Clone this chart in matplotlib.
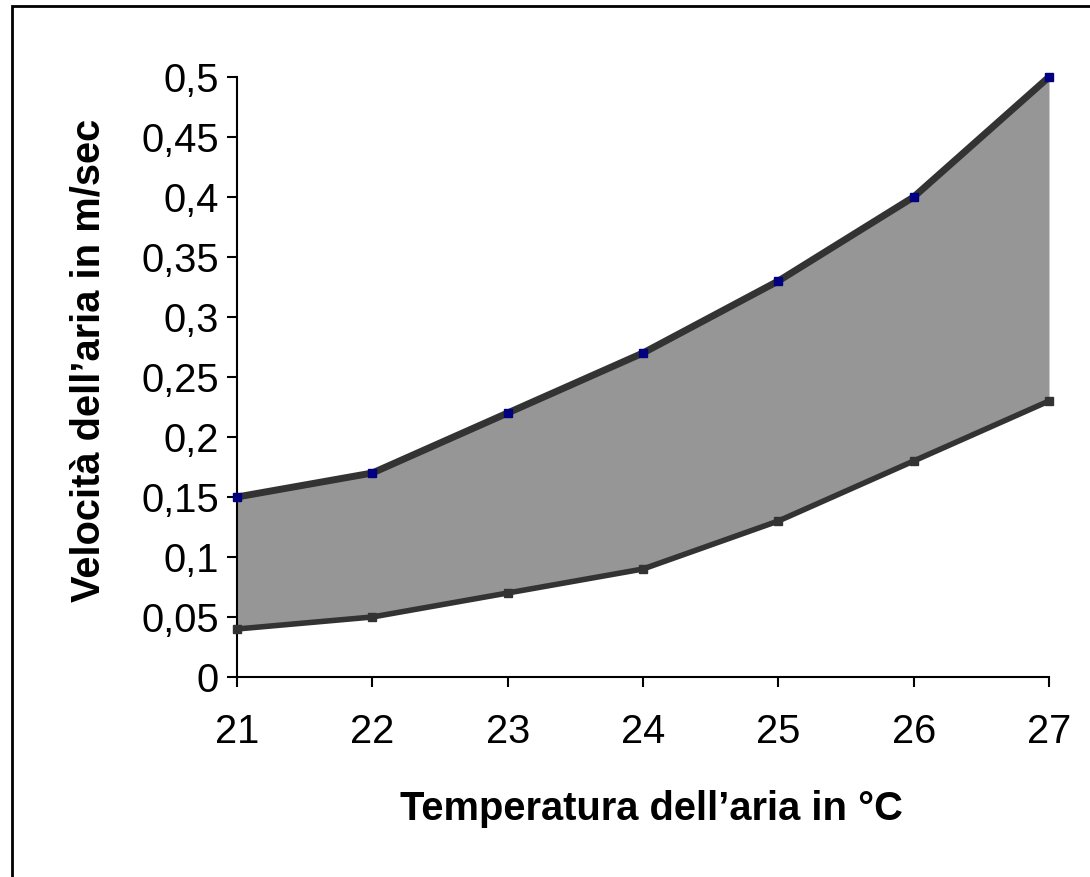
import matplotlib.pyplot as plt
from matplotlib.patches import Rectangle

plt.rcParams['font.family'] = ['Liberation Sans', 'DejaVu Sans']

temps = [21, 22, 23, 24, 25, 26, 27]
upper = [0.15, 0.17, 0.22, 0.27, 0.33, 0.40, 0.50]
lower = [0.04, 0.05, 0.07, 0.09, 0.13, 0.18, 0.23]
yticks = [0, 0.05, 0.1, 0.15, 0.2, 0.25, 0.3, 0.35, 0.4, 0.45, 0.5]
ylabels = ['0', '0,05', '0,1', '0,15', '0,2', '0,25', '0,3', '0,35', '0,4', '0,45', '0,5']

fig = plt.figure(figsize=(10.9, 8.77), dpi=100)
ax = fig.add_axes([237 / 1090, 1 - 677 / 877, (1049 - 237) / 1090, 600 / 877])

ax.fill_between(temps, lower, upper, color='#969696', lw=0)
ax.plot(temps, upper, color='#333333', lw=5, solid_capstyle='butt', clip_on=False, zorder=3)
ax.plot(temps, lower, color='#333333', lw=4, solid_capstyle='butt', clip_on=False, zorder=3)
ax.plot(temps, upper, ls='none', marker='s', ms=6, mfc='#000080', mec='#000080', clip_on=False, zorder=4)
ax.plot(temps, lower, ls='none', marker='s', ms=6, mfc='#333333', mec='#333333', clip_on=False, zorder=4)

ax.set_xlim(21, 27)
ax.set_ylim(0, 0.5)
ax.set_xticks(temps)
ax.set_xticklabels([str(t) for t in temps], fontsize=28.7)
ax.set_yticks(yticks)
ax.set_yticklabels(ylabels, fontsize=28.7)
ax.tick_params(direction='out', length=7, width=1.5, colors='black')
ax.tick_params(axis='y', pad=6)
ax.tick_params(axis='x', pad=19)

for s in ['top', 'right']:
    ax.spines[s].set_visible(False)
for s in ['left', 'bottom']:
    ax.spines[s].set_linewidth(1.5)

ax.set_xlabel('Temperatura dell\u2019aria in \u00b0C', fontsize=28.7, fontweight='bold')
ax.set_ylabel('Velocit\u00e0 dell\u2019aria in m/sec', fontsize=28.7, fontweight='bold')
ax.xaxis.set_label_coords(0.511, -0.1875)
ax.yaxis.set_label_coords(-0.159, 0.527)

fig.patches.append(Rectangle((12 / 1090, -0.1), 1.2, 1 - 6 / 877 + 0.1, transform=fig.transFigure,
                             fill=False, ec='black', lw=2))

fig.savefig('out.png', dpi=100)
